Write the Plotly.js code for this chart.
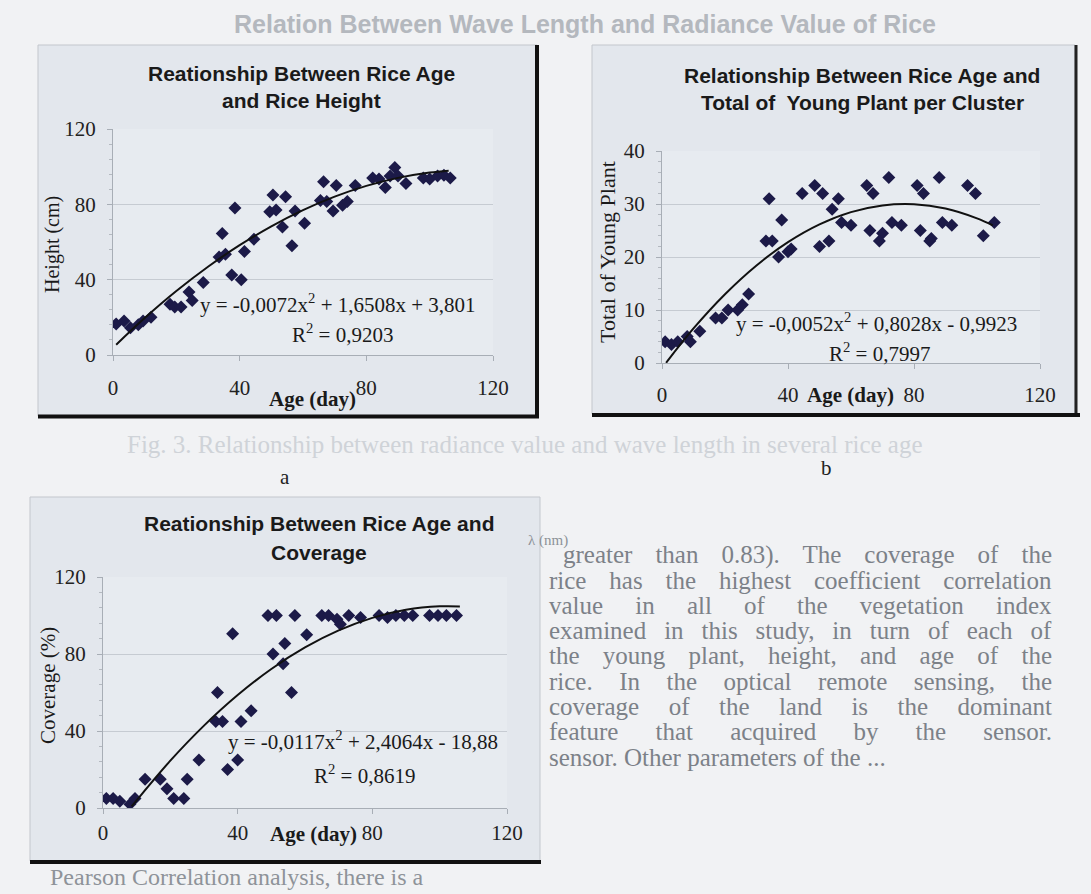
<!DOCTYPE html>
<html>
<head>
<meta charset="utf-8">
<script src="https://cdn.plot.ly/plotly-3.0.1.min.js"></script>
<style>html,body{margin:0;padding:0;background:#f1f2f4;}#chart{width:1091px;height:894px;}</style>
</head>
<body>
<div id="chart"></div>
<script>
// ---------- DATA ----------
// a: Rice age vs rice height
const ageA    = [1, 3.5, 5.5, 8, 9.5, 12, 18, 19.5, 21.5, 24, 25, 28.5, 33.5, 35.5, 34.5, 37.5, 38.5, 40.5, 41.5, 44.5, 49.5, 51.5, 50.5, 54.5, 57.5, 53.5, 56.5, 60.5, 65.5, 66.5, 67.5, 69.5, 70.5, 72.5, 74, 76.5, 82, 84, 86, 87.5, 89, 90, 92.5, 98, 100, 102.5, 104.5, 106.5];
const heightA = [16.5, 18, 14.5, 16, 18, 20, 27, 25.5, 25.5, 33.5, 29, 38.5, 52, 53.5, 64.5, 42.5, 78, 40, 55, 61.5, 76, 77, 85, 84, 76.5, 68, 58, 70, 82, 92, 81.5, 76.5, 90, 79.5, 81.5, 90, 94, 93.5, 89, 95, 99.5, 95, 91, 94, 93.5, 95, 95.5, 94];
// trend line values as drawn (y = -0,0072x² + 1,6508x + 3,801)
const trendAx = [1, 10, 20, 30, 40, 50, 60, 70, 80, 90, 100, 106];
const trendAy = [5.44, 19.59, 33.94, 46.85, 58.31, 68.34, 76.93, 84.08, 89.79, 94.05, 96.88, 97.88];

// b: Rice age vs total of young plant per cluster
const ageB   = [1, 3, 5, 8, 9, 12, 17, 19, 21, 24, 25.5, 27.5, 33, 35, 34, 37, 38, 40, 41, 44.5, 48.5, 51, 50, 53, 56, 54, 57, 60, 65, 67, 72, 66, 70, 69, 73, 76, 81, 83, 88, 82, 85.5, 85, 89, 92, 97, 99.5, 102, 105.5];
const plantB = [4, 3.5, 4, 5, 4, 6, 8.5, 8.5, 10, 10, 11, 13, 23, 23, 31, 20, 27, 21, 21.5, 32, 33.5, 32, 22, 23, 31, 29, 26.5, 26, 33.5, 32, 35, 25, 24.5, 23, 26.5, 26, 33.5, 32, 35, 25, 23.5, 23, 26.5, 26, 33.5, 32, 24, 26.5];
// trend line values as drawn (y = -0,0052x² + 0,8028x - 0,9923)
const trendBx = [1.3, 10, 20, 30, 40, 50, 60, 70, 80, 90, 100, 105];
const trendBy = [0.04, 6.52, 12.98, 18.41, 22.80, 26.15, 28.46, 29.72, 29.95, 29.14, 27.29, 25.97];

// c: Rice age vs coverage
const ageC      = [1, 3, 5, 8, 9.5, 12.5, 17, 19, 21, 24, 25, 28.5, 34, 33.5, 35.5, 37, 40, 38.5, 41, 44, 49, 51.5, 50.5, 54, 53.5, 56, 57, 60.5, 65, 67, 69.5, 70.5, 73, 76.5, 82, 84.5, 87, 89.5, 92, 97, 99.5, 102, 105];
const coverageC = [5, 5, 3.5, 2, 5, 15, 15, 10, 5, 5, 15, 25, 60, 45, 45, 20, 25, 90.5, 45, 50.5, 100, 100, 80, 85.5, 75, 60, 100, 90, 100, 100, 98, 95.5, 100, 99, 100, 99, 100, 100, 100, 100, 100, 100, 100];
// trend line values as drawn (y = -0,0117x² + 2,4064x - 18,88)
const trendCx = [8.5, 10, 20, 30, 40, 50, 60, 70, 80, 90, 100, 106];
const trendCy = [0.8, 4.01, 24.57, 42.78, 58.66, 72.19, 83.38, 92.24, 98.75, 102.93, 104.76, 104.74];

const xTicks = [0, 40, 80, 120];

// ---------- page texts ----------
const rightColumn = [
  "greater than 0.83). The coverage of the",
  "rice has the highest coefficient correlation",
  "value in all of the vegetation index",
  "examined in this study, in turn of each of",
  "the young plant, height, and age of the",
  "rice. In the optical remote sensing, the",
  "coverage of the land is the dominant",
  "feature that acquired by the sensor.",
  "sensor. Other parameters of the ..."
];

// ---------- helpers (layout only) ----------
const W = 1091, H = 894;
const X = v => v / W;
const Y = v => 1 - v / H;
const SERIF = "Liberation Serif, Times New Roman, serif";
const SANS = "Liberation Sans, Arial, sans-serif";

function lineYs(start, step, n) { const a = []; for (let i = 0; i < n; i++) a.push(start + i * step); return a; }
function constArr(v, n) { return new Array(n).fill(v); }

const traces = [];
traces.push({
  x: [585], y: [27], text: ["Relation Between Wave Length and Radiance Value of Rice"],
  mode: 'text', textposition: 'middle center',
  textfont: {family: SANS, size: 25, color: '#b4b8be', weight: 700},
  xaxis: 'x', yaxis: 'y', hoverinfo: 'skip', showlegend: false
});
traces.push({
  x: [127], y: [447], text: ["Fig. 3. Relationship between radiance value and wave length in several rice age"],
  mode: 'text', textposition: 'middle right',
  textfont: {family: SERIF, size: 25, color: '#cfd3d8'},
  xaxis: 'x', yaxis: 'y', hoverinfo: 'skip', showlegend: false
});
traces.push({
  x: [563].concat(constArr(549, rightColumn.length - 1)), y: lineYs(557, 25.3, rightColumn.length),
  text: rightColumn, mode: 'text', textposition: 'middle right',
  textfont: {family: SERIF, size: 25, color: '#7c8188'},
  xaxis: 'x', yaxis: 'y', hoverinfo: 'skip', showlegend: false
});
traces.push({
  x: [50], y: [879], text: ["Pearson Correlation analysis, there is a"],
  mode: 'text', textposition: 'middle right',
  textfont: {family: SERIF, size: 24, color: '#8e9399'},
  xaxis: 'x', yaxis: 'y', hoverinfo: 'skip', showlegend: false
});

const mk = {symbol: 'diamond', size: 10, color: '#1c1a48'};
const tl = {color: '#111111', width: 2, shape: 'spline'};
traces.push({x: ageA, y: heightA, mode: 'markers', marker: mk, xaxis: 'x2', yaxis: 'y2', hoverinfo: 'x+y'});
traces.push({x: trendAx, y: trendAy, mode: 'lines', line: tl, xaxis: 'x2', yaxis: 'y2', hoverinfo: 'skip'});
traces.push({x: ageB, y: plantB, mode: 'markers', marker: mk, xaxis: 'x3', yaxis: 'y3', hoverinfo: 'x+y'});
traces.push({x: trendBx, y: trendBy, mode: 'lines', line: tl, xaxis: 'x3', yaxis: 'y3', hoverinfo: 'skip'});
traces.push({x: ageC, y: coverageC, mode: 'markers', marker: mk, xaxis: 'x4', yaxis: 'y4', hoverinfo: 'x+y'});
traces.push({x: trendCx, y: trendCy, mode: 'lines', line: tl, xaxis: 'x4', yaxis: 'y4', hoverinfo: 'skip'});

function xa(p0, p1, anchor, standoff) {
  return {domain: [X(p0), X(p1)], range: [0, 120], tickvals: xTicks, anchor: anchor,
    showgrid: false, zeroline: false, showline: true, linecolor: '#a8aeb6', linewidth: 1,
    ticks: 'outside', ticklen: 5, tickcolor: '#a8aeb6', ticklabelstandoff: standoff,
    tickfont: {family: SERIF, size: 21, color: '#222'}, automargin: false, fixedrange: true};
}
function ya(p0, p1, anchor, max, dtick, minor) {
  return {domain: [Y(p0), Y(p1)], range: [0, max], dtick: dtick, tick0: 0, anchor: anchor,
    showgrid: true, gridcolor: '#c6cbd2', gridwidth: 1, zeroline: false, showline: true,
    linecolor: '#a8aeb6', linewidth: 1, ticks: 'outside', ticklen: 5, tickcolor: '#a8aeb6',
    ticklabelstandoff: 7, minor: {dtick: minor, ticks: 'outside', ticklen: 3, tickcolor: '#b4b9c0', showgrid: false},
    tickfont: {family: SERIF, size: 21, color: '#222'}, automargin: false, fixedrange: true};
}

function rect(x0, y0, x1, y1, fill, lc) {
  return {type: 'rect', xref: 'paper', yref: 'paper', x0: X(x0), x1: X(x1), y0: Y(y1), y1: Y(y0),
    fillcolor: fill, line: {color: lc || 'rgba(0,0,0,0)', width: 1}, layer: 'below'};
}
function seg(x0, y0, x1, y1, color, w) {
  return {type: 'line', xref: 'paper', yref: 'paper', x0: X(x0), x1: X(x1), y0: Y(y0), y1: Y(y1),
    line: {color: color, width: w}, layer: 'above'};
}

const shapes = [
  rect(38, 45, 537, 416, '#e3e7ed', '#c3c7cd'),
  rect(592, 45, 1075, 414, '#e3e7ed', '#c3c7cd'),
  rect(30, 497, 540, 861, '#e3e7ed', '#c3c7cd'),
  rect(113, 129, 493, 355, '#e7ebf0'),
  rect(662, 151, 1040, 363, '#e7ebf0'),
  rect(103, 577, 507, 808, '#e7ebf0'),
  seg(537, 45, 537, 418, '#111', 4),
  seg(38, 416.5, 539, 416.5, '#111', 4),
  seg(1076, 45, 1076, 416, '#222', 3),
  seg(592, 415, 1080, 415, '#111', 4),
  seg(30, 862, 541, 862, '#111', 4)
];

function ann(text, x, y, font, extra) {
  return Object.assign({text: text, xref: 'paper', yref: 'paper', x: X(x), y: Y(y), showarrow: false,
    xanchor: 'center', yanchor: 'middle', font: font}, extra || {});
}
const titleFont = {family: SANS, size: 21, color: '#1a1a1a', weight: 700};
const axFont = {family: SERIF, size: 20, color: '#1a1a1a'};
const axFontL = {family: SERIF, size: 22, color: '#1a1a1a'};
const axBold = {family: SERIF, size: 21, color: '#1a1a1a', weight: 700};
const eqFont = {family: SERIF, size: 21, color: '#1a1a1a'};

const annotations = [
  ann('Reationship Between Rice Age', 301, 73, titleFont),
  ann('and Rice Height', 301, 100, titleFont),
  ann('Relationship Between Rice Age and', 862, 75, titleFont),
  ann('Total of  Young Plant per Cluster', 862, 103, titleFont),
  ann('Reationship Between Rice Age and', 319, 523, titleFont),
  ann('Coverage', 319, 552, titleFont),

  ann('Height (cm)', 53, 245, axFont, {textangle: -90}),
  ann('Total of Young Plant', 607, 252, axFontL, {textangle: -90}),
  ann('Coverage (%)', 48, 686, {family: SERIF, size: 21, color: '#1a1a1a'}, {textangle: -90}),
  ann('Age (day)', 312, 399, axBold),
  ann('Age (day)', 851, 395, axBold),
  ann('Age (day)', 313, 834, axBold),

  ann('y = -0,0072x<sup>2</sup> + 1,6508x + 3,801', 338, 303, eqFont),
  ann('R<sup>2</sup> = 0,9203', 342, 333, eqFont),
  ann('y = -0,0052x<sup>2</sup> + 0,8028x - 0,9923', 876, 322, eqFont),
  ann('R<sup>2</sup> = 0,7997', 879, 353, eqFont),
  ann('y = -0,0117x<sup>2</sup> + 2,4064x - 18,88', 363, 740, eqFont),
  ann('R<sup>2</sup> = 0,8619', 364, 774, eqFont),

  ann('a', 285, 477, {family: SERIF, size: 21, color: '#222'}),
  ann('b', 826, 468, {family: SERIF, size: 21, color: '#222'}),
  ann('λ (nm)', 548, 540, {family: SERIF, size: 15, color: '#8d9298'})
];

const layout = {
  width: W, height: H, margin: {l: 0, r: 0, t: 0, b: 0, pad: 0},
  paper_bgcolor: '#f1f2f4', plot_bgcolor: 'rgba(0,0,0,0)', showlegend: false,
  xaxis: {domain: [0, 1], range: [0, W], visible: false, fixedrange: true},
  yaxis: {domain: [0, 1], range: [H, 0], visible: false, fixedrange: true},
  xaxis2: xa(113, 493, 'y2', 9),
  yaxis2: ya(355, 129, 'x2', 120, 40, 8),
  xaxis3: xa(662, 1040, 'y3', 8),
  yaxis3: ya(363, 151, 'x3', 40, 10, 2),
  xaxis4: xa(103, 507, 'y4', 1),
  yaxis4: ya(808, 577, 'x4', 120, 40, 8),
  shapes: shapes,
  annotations: annotations
};

Plotly.newPlot('chart', traces, layout, {displayModeBar: false}).then(function (gd) {
  // justify the body-text column like the printed page (right edge ~1052px), last line left as is
  const right = 1052;
  const last = rightColumn[rightColumn.length - 1];
  gd.querySelectorAll('.textpoint text').forEach(function (el) {
    const t = el.textContent;
    if (rightColumn.indexOf(t) < 0 || t === last) return;
    const box = el.getBBox();
    const spaces = (t.match(/ /g) || []).length;
    if (!spaces) return;
    const extra = (right - (box.x + box.width)) / spaces;
    if (extra > 0) el.style.wordSpacing = extra.toFixed(2) + 'px';
  });
});
</script>
</body>
</html>
